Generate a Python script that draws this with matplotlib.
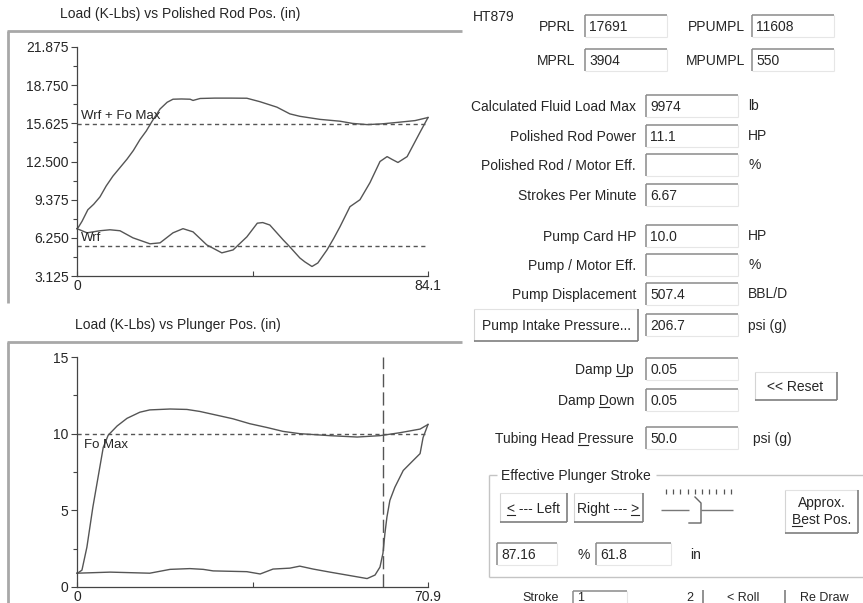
import matplotlib
matplotlib.use("Agg")
import matplotlib.pyplot as plt
from matplotlib.ticker import FixedLocator
from matplotlib.font_manager import FontProperties

W, H, DPI = 863, 603, 100
plt.rcParams['font.family'] = ['Liberation Sans', 'DejaVu Sans']
plt.rcParams['font.size'] = 10

INK = '#262626'
TRACE = '#555555'
AXIS = '#444444'

# ---------------- Polished-rod (surface) dynamometer card ----------------
rod_stroke = 84.1
rod_up_pos = [0.0, 0.3, 1.2, 2.6, 4.0, 5.5, 7.0, 8.6, 10.3, 12.0, 13.5, 15.1, 16.6,
              18.0, 19.9, 21.6, 23.0, 25.0, 27.1, 27.8, 29.5, 33.0, 37.0, 40.7, 43.8,
              47.9, 51.0, 53.4, 58.2, 63.0, 66.0, 69.5, 73.0, 76.7, 81.0, 84.1]
rod_up_load = [7.0, 7.1, 7.6, 8.55, 9.0, 9.6, 10.5, 11.3, 12.0, 12.7, 13.4, 14.3, 15.0,
               15.8, 16.8, 17.35, 17.6, 17.62, 17.6, 17.5, 17.66, 17.69, 17.69, 17.68, 17.4,
               16.95, 16.4, 16.2, 15.95, 15.8, 15.62, 15.52, 15.58, 15.7, 15.85, 16.1]
rod_down_pos = [84.1, 82.2, 79.1, 76.9, 75.5, 74.3, 72.6, 70.2, 67.8, 65.4, 63.0, 61.5,
                59.9, 57.7, 56.3, 54.6, 53.4, 51.0, 49.4, 46.2, 44.5, 43.2, 40.7, 37.4,
                34.7, 31.1, 27.8, 25.4, 23.0, 19.9, 17.5, 13.4, 10.3, 7.9, 5.5, 2.4, 0.0]
rod_down_load = [16.1, 14.9, 12.9, 12.42, 12.67, 12.9, 12.5, 10.77, 9.37, 8.8, 7.15, 6.2,
                 5.26, 4.19, 3.904, 4.28, 4.6, 5.51, 6.08, 7.3, 7.5, 7.45, 6.33, 5.26,
                 5.02, 5.67, 6.74, 7.0, 6.66, 5.84, 5.76, 6.25, 6.83, 6.91, 6.83, 6.66, 7.0]
wrf = 5.58
fo_max = 9.974
rod_yticks = [3.125, 6.25, 9.375, 12.5, 15.625, 18.75, 21.875]
rod_ylabels = ['3.125', '6.250', '9.375', '12.500', '15.625', '18.750', '21.875']

# ---------------- Downhole pump card ----------------
pump_stroke = 70.9
effective_stroke = 61.8
pump_up_pos = [0.0, 0.2, 1.0, 2.0, 3.2, 4.6, 5.3, 6.3, 8.1, 10.1, 12.7, 14.7, 18.8, 22.2,
               24.8, 28.3, 31.5, 34.9, 38.4, 41.6, 45.0, 51.1, 56.6, 61.2, 65.2, 69.3, 70.9]
pump_up_load = [0.9, 0.92, 1.1, 2.6, 5.2, 7.8, 9.1, 9.9, 10.5, 11.0, 11.4, 11.55, 11.608,
                11.58, 11.45, 11.2, 10.97, 10.65, 10.4, 10.15, 10.0, 9.87, 9.78, 9.87,
                10.06, 10.3, 10.6]
pump_down_pos = [70.9, 69.9, 69.3, 67.9, 65.9, 64.2, 63.2, 62.6, 62.2, 61.8, 61.2, 60.2,
                 58.6, 54.5, 51.1, 47.7, 45.0, 43.0, 39.6, 37.0, 34.3, 27.5, 25.5, 22.8,
                 18.8, 14.7, 6.7, 0.0]
pump_down_load = [10.6, 9.74, 8.7, 8.25, 7.6, 6.5, 5.65, 4.55, 3.5, 2.2, 1.3, 0.78,
                  0.55, 0.78, 0.97, 1.17, 1.36, 1.23, 1.17, 0.85, 1.0, 1.05, 1.15, 1.2,
                  1.15, 0.9, 0.97, 0.9]
pump_yticks = [0, 5, 10, 15]
pump_ylabels = ['0', '5', '10', '15']

# ---------------- Form fields ----------------
well_name = 'HT879'
load_fields = [('PPRL', '17691', 'PPUMPL', '11608'),
               ('MPRL', '3904', 'MPUMPL', '550')]
result_labels = ['Calculated Fluid Load Max', 'Polished Rod Power',
                 'Polished Rod / Motor Eff.', 'Strokes Per Minute', 'Pump Card HP',
                 'Pump / Motor Eff.', 'Pump Displacement']
result_values = ['9974', '11.1', '', '6.67', '10.0', '', '507.4']
result_units = ['lb', 'HP', '%', '', 'HP', '%', 'BBL/D']
intake_pressure = '206.7'
damp_up = '0.05'
damp_down = '0.05'
tubing_head_pressure = '50.0'
stroke_percent = '87.16'
stroke_inches = '61.8'

fig = plt.figure(figsize=(W / DPI, H / DPI), dpi=DPI, facecolor='white')
ui = fig.add_axes([0, 0, 1, 1], zorder=0)
ui.set_xlim(0, W)
ui.set_ylim(H, 0)
ui.axis('off')

renderer = fig.canvas.get_renderer()
FONT = FontProperties(family=['Liberation Sans', 'DejaVu Sans'], size=10)


def text_width(s):
    w, h, d = renderer.get_text_width_height_descent(s, FONT, ismath=False)
    return w


def label(x, y, s, ha='left', underline=None, size=10):
    """Text with baseline at y (pixel coords); optionally underline one character."""
    ui.text(x, y, s, ha=ha, va='baseline', fontsize=size, color=INK)
    if underline is not None:
        total = text_width(s)
        if ha == 'left':
            x0 = x
        elif ha == 'right':
            x0 = x - total
        else:
            x0 = x - total / 2
        a = x0 + text_width(s[:underline]) if underline > 0 else x0
        b = x0 + text_width(s[:underline + 1])
        ui.plot([a, b], [y + 2, y + 2], color=INK, lw=0.8)


def hline(x0, x1, y, c, lw=1.0):
    ui.plot([x0, x1], [y, y], color=c, lw=lw, solid_capstyle='butt')


def vline(x, y0, y1, c, lw=1.0):
    ui.plot([x, x], [y0, y1], color=c, lw=lw, solid_capstyle='butt')


def edit_box(x0, y0, x1, y1, value):
    hline(x0, x1, y0, '#8a8a8a', 1.1)
    vline(x0, y0, y1, '#8a8a8a', 1.1)
    hline(x0, x1, y1, '#e6e6e6', 0.8)
    vline(x1, y0, y1, '#e6e6e6', 0.8)
    if value:
        label(x0 + 4, (y0 + y1) / 2 + 5, value)


def button(x0, y0, x1, y1):
    hline(x0, x1, y0, '#e2e2e2', 0.8)
    vline(x0, y0, y1, '#d4d4d4', 0.8)
    hline(x0, x1, y1, '#7e7e7e', 1.2)
    vline(x1, y0, y1, '#7e7e7e', 1.2)


# ---------------- Chart panels ----------------
for top, bottom in [(31, 303), (342, H + 2)]:
    hline(7, 462, top, '#a8a8a8', 2.0)
    vline(8, top, bottom, '#a8a8a8', 2.0)

ui.text(180, 14, 'Load (K-Lbs) vs Polished Rod Pos. (in)', ha='center', va='center',
        fontsize=10, color=INK)
ui.text(178, 325, 'Load (K-Lbs) vs Plunger Pos. (in)', ha='center', va='center',
        fontsize=10, color=INK)


def px_axes(x0, y0, x1, y1):
    return fig.add_axes([x0 / W, 1 - y1 / H, (x1 - x0) / W, (y1 - y0) / H], zorder=2)


def card(ax, up_x, up_y, dn_x, dn_y, xmax, ymin, ymax, yticks, ylabels, yminor):
    ax.set_facecolor('none')
    ax.plot(up_x, up_y, color=TRACE, lw=1.0, clip_on=False)
    ax.plot(dn_x, dn_y, color=TRACE, lw=1.0, clip_on=False)
    ax.set_xlim(0, xmax)
    ax.set_ylim(ymin, ymax)
    for s in ['top', 'right']:
        ax.spines[s].set_visible(False)
    for s in ['left', 'bottom']:
        ax.spines[s].set_color(AXIS)
        ax.spines[s].set_linewidth(0.9)
    ax.set_yticks(yticks)
    ax.set_yticklabels(ylabels)
    ax.yaxis.set_minor_locator(FixedLocator(yminor))
    ax.tick_params(axis='y', which='major', direction='out', length=4.5, width=0.8,
                   pad=1.5, labelsize=10, colors=AXIS, labelcolor=INK)
    ax.tick_params(axis='y', which='minor', direction='out', length=3, width=0.8,
                   colors=AXIS)
    ax.set_xticks([0, xmax / 2, xmax])
    ax.set_xticklabels(['0', '', f'{xmax}'])
    ax.tick_params(axis='x', direction='in', length=3.5, width=0.8, pad=2,
                   labelsize=10, colors=AXIS, labelcolor=INK)


DASH = (0, (3, 2.5))

ax1 = px_axes(77, 47, 428, 276)
card(ax1, rod_up_pos, rod_up_load, rod_down_pos, rod_down_load, rod_stroke,
     3.125, 21.875, rod_yticks, rod_ylabels,
     [4.6875, 7.8125, 10.9375, 14.0625, 17.1875, 20.3125])
for level in (wrf + fo_max, wrf):
    ax1.plot([0, rod_stroke], [level, level], color=TRACE, lw=1.0, ls=DASH)
ax1.text(1.0, wrf + fo_max + 0.2, 'Wrf + Fo Max', fontsize=9.5, color=INK,
         ha='left', va='bottom')
ax1.text(1.0, wrf + 0.2, 'Wrf', fontsize=9.5, color=INK, ha='left', va='bottom')

ax2 = px_axes(77, 357, 428, 587)
card(ax2, pump_up_pos, pump_up_load, pump_down_pos, pump_down_load, pump_stroke,
     0, 15, pump_yticks, pump_ylabels, [2.5, 7.5, 12.5])
ax2.plot([0, pump_stroke], [fo_max, fo_max], color=TRACE, lw=1.0, ls=DASH)
ax2.plot([effective_stroke, effective_stroke], [0, 15], color=TRACE, lw=1.0,
         ls=(0, (9.5, 3.6)))
ax2.text(1.5, fo_max - 0.35, 'Fo Max', fontsize=9.5, color=INK, ha='left', va='top')

# ---------------- Form panel ----------------
label(473, 21, well_name)
for (l1, v1, l2, v2), yc in zip(load_fields, [26, 60]):
    label(575, yc + 5, l1, ha='right')
    edit_box(585, yc - 11, 667, yc + 11, v1)
    label(745, yc + 5, l2, ha='right')
    edit_box(752, yc - 11, 834, yc + 11, v2)

row_y = [106, 136, 165, 195, 236, 265, 294]
for name, val, unit, yc in zip(result_labels, result_values, result_units, row_y):
    label(636, yc + 5, name, ha='right')
    edit_box(646, yc - 11, 738, yc + 11, val)
    if unit:
        label(748, yc + 4, unit)

button(474, 309, 638, 341)
label(556, 330, 'Pump Intake Pressure...', ha='center')
edit_box(646, 314, 738, 336, intake_pressure)
label(748, 330, 'psi (g)')

label(634, 374, 'Damp Up', ha='right', underline=5)
edit_box(646, 358, 738, 380, damp_up)
label(634, 405, 'Damp Down', ha='right', underline=5)
edit_box(646, 389, 738, 411, damp_down)
button(755, 372, 837, 400)
label(795, 391, '<< Reset', ha='center')

label(634, 443, 'Tubing Head Pressure', ha='right', underline=12)
edit_box(646, 427, 738, 449, tubing_head_pressure)
label(753, 443, 'psi (g)')

# Effective plunger stroke group
hline(489, 497, 475, '#c4c4c4', 1.0)
hline(656, W, 475, '#c4c4c4', 1.0)
vline(489, 475, 577, '#c4c4c4', 1.0)
hline(489, W, 577, '#c4c4c4', 1.0)
label(501, 480, 'Effective Plunger Stroke')

button(500, 493, 567, 522)
label(533, 513, '< --- Left', ha='center', underline=0)
button(574, 493, 643, 522)
label(608, 513, 'Right --- >', ha='center', underline=10)

for k in range(10):
    tx = 666 + k * 7.2
    vline(tx, 489, 494, '#555555', 0.9)
hline(661, 689, 510, '#777777', 1.0)
hline(701, 733, 510, '#777777', 1.0)
ui.plot([695, 701, 701, 689], [497, 503, 523, 523], color='#666666', lw=1.0)

button(785, 490, 858, 533)
label(822, 507, 'Approx.', ha='center')
label(822, 524, 'Best Pos.', ha='center', underline=0)

edit_box(497, 543, 557, 565, stroke_percent)
label(577, 559, '%')
edit_box(596, 543, 671, 565, stroke_inches)
label(690, 559, 'in')

# Stroke navigation row along the lower edge
label(522, 601, 'Stroke', size=9)
edit_box(573, 591, 627, 612, '')
label(577, 601, '1', size=9)
label(686, 601, '2', size=9)
vline(703, 590, H, '#7e7e7e', 1.2)
label(727, 601, '< Roll', size=9)
vline(785, 590, H, '#7e7e7e', 1.2)
label(800, 601, 'Re Draw', size=9)

fig.savefig('out.png', dpi=DPI, facecolor='white')
